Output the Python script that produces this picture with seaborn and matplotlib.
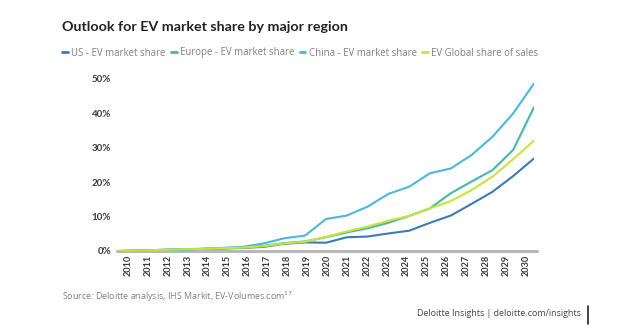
import numpy as np
import pandas as pd
import matplotlib
matplotlib.use("Agg")
import matplotlib.pyplot as plt
from matplotlib.lines import Line2D
import seaborn as sns

years = list(range(2010, 2031))
us = [0.0, 0.1, 0.3, 0.5, 0.6, 0.7, 0.9, 1.2, 2.1, 2.5, 2.4, 4.0, 4.2, 5.1, 5.9, 8.2, 10.3, 13.7, 17.2, 21.8, 26.9]
europe = [0.0, 0.1, 0.3, 0.5, 0.6, 0.8, 1.0, 1.5, 2.3, 2.8, 4.0, 5.4, 6.6, 8.2, 10.2, 12.4, 16.8, 20.2, 23.5, 29.4, 41.8]
china = [0.0, 0.1, 0.2, 0.4, 0.6, 0.9, 1.2, 2.2, 3.7, 4.5, 9.3, 10.3, 12.9, 16.6, 18.7, 22.6, 24.0, 27.9, 33.2, 40.0, 48.7]
global_ = [0.0, 0.1, 0.3, 0.5, 0.6, 0.8, 1.0, 1.4, 2.2, 2.7, 4.1, 5.7, 7.1, 8.8, 10.2, 12.4, 14.5, 17.7, 21.6, 26.7, 32.1]
series_names = ["US - EV market share", "Europe - EV market share",
                "China - EV market share", "EV Global share of sales"]
colors = ["#3d7ab5", "#45b9a5", "#4ab8dc", "#c8e43c"]
y_ticks = [0, 10, 20, 30, 40, 50]

df = pd.concat([
    pd.DataFrame({"year": years, "value": v, "series": n})
    for v, n in zip([us, europe, china, global_], series_names)
])

sns.set_theme(style="white")
plt.rcParams["font.family"] = ["Open Sans", "DejaVu Sans"]
BOLDF = ["Lato", "DejaVu Sans"]

W, H = 624, 328
fig = plt.figure(figsize=(W / 100, H / 100), dpi=100)
fig.patch.set_facecolor("white")

x0, x1 = 118, 534
y_top, y_bot = 79, 251
ax = fig.add_axes([x0 / W, 1 - y_bot / H, (x1 - x0) / W, (y_bot - y_top) / H])

sns.lineplot(data=df, x="year", y="value", hue="series", hue_order=series_names,
             palette=colors, linewidth=1.5, ax=ax, legend=False, zorder=3)

ax.set_xlim(2010, 2030)
ax.set_ylim(0, 50)
ax.axhline(0, color="#b8b8b8", lw=2.2, zorder=1, xmin=-0.003, xmax=1.008, clip_on=False)
for s in ax.spines.values():
    s.set_visible(False)
ax.set_xlabel("")
ax.set_ylabel("")
ax.set_yticks(y_ticks)
ax.set_yticklabels([f"{t}%" for t in y_ticks], fontsize=7, color="#3a3a3a",
                   fontweight="bold", family=BOLDF)
ax.set_xticks([])
ax.tick_params(axis="both", length=0)
ax.tick_params(axis="y", pad=5)
ax.grid(False)

# category-style year labels (slightly inset from the line ends, as in the original)
lx0, lx1 = 128, 526
axl = fig.add_axes([lx0 / W, 1 - y_bot / H, (lx1 - lx0) / W, 0.001])
axl.set_xlim(2010, 2030)
axl.set_xticks(years)
axl.set_xticklabels([str(y) for y in years], rotation=90, fontsize=6.6,
                    color="#3a3a3a", fontweight="bold", family=BOLDF)
axl.set_yticks([])
axl.tick_params(axis="x", length=0, pad=3)
axl.patch.set_visible(False)
for s in axl.spines.values():
    s.set_visible(False)

fig.text(62 / W, 1 - 27 / H, "Outlook for EV market share by major region",
         fontsize=10.3, fontweight="bold", color="#222222", va="center", ha="left",
         family=BOLDF)

handles = [Line2D([0], [0], color=c, lw=2) for c in colors]
leg = fig.legend(handles, series_names, loc="center left",
                 bbox_to_anchor=(62 / W, 1 - 53 / H), ncol=4, frameon=False,
                 fontsize=6.9, handlelength=0.6, handletextpad=0.35,
                 columnspacing=0.55, borderaxespad=0, borderpad=0)
for t in leg.get_texts():
    t.set_color("#808080")

fig.text(62 / W, 1 - 297 / H, "Source: Deloitte analysis, IHS Markit, EV-Volumes.com$^{17}$",
         fontsize=6.4, color="#808080", va="center", ha="left")
fig.text(581 / W, 1 - 314 / H, "Deloitte Insights | deloitte.com/insights",
         fontsize=6.4, color="#444444", va="center", ha="right")
fig.add_artist(Line2D([588 / W, 588 / W], [1 - 306 / H, 1 - 324 / H],
                      color="#222222", lw=1.2))

fig.savefig("out.png", dpi=100, facecolor="white")
